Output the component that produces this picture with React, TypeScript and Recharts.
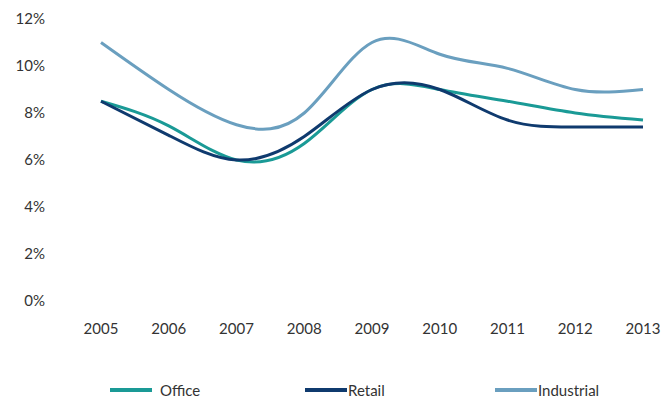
import { LineChart, Line, XAxis, YAxis, Legend } from 'recharts'

const years = ['2005', '2006', '2007', '2008', '2009', '2010', '2011', '2012', '2013']
const office = [8.5, 7.45, 6.0, 6.7, 9.0, 9.0, 8.5, 8.0, 7.7]
const retail = [8.5, 7.05, 6.0, 7.0, 9.0, 9.0, 7.7, 7.4, 7.4]
const industrial = [11.0, 9.0, 7.5, 8.0, 11.0, 10.5, 9.9, 9.0, 9.0]
const yTicks = [0, 2, 4, 6, 8, 10, 12]

const SERIES = [
  { key: 'office', name: 'Office', color: '#1a9a96' },
  { key: 'retail', name: 'Retail', color: '#0f3a6e' },
  { key: 'industrial', name: 'Industrial', color: '#6a9fbf' },
]

const FONT = 'Lato, "Open Sans", sans-serif'

const data = years.map((y, i) => ({
  year: y,
  office: office[i],
  retail: retail[i],
  industrial: industrial[i],
}))

function BottomLegend() {
  // swatch left edge and text left edge
  const slots = [
    { left: 110, text: 160 },
    { left: 305, text: 348 },
    { left: 495, text: 538 },
  ]
  return (
    <div style={{ position: 'relative', height: 20, fontFamily: FONT, fontSize: 15, color: '#333' }}>
      {SERIES.map((s, i) => (
        <div key={s.key} style={{ position: 'absolute', left: slots[i].left, top: 0, height: 20, display: 'flex', alignItems: 'center' }}>
          <span style={{ display: 'inline-block', width: 42, height: 4, background: s.color, marginRight: slots[i].text - slots[i].left - 42 }} />
          <span>{s.name}</span>
        </div>
      ))}
    </div>
  )
}

export default function App() {
  return (
    <div style={{ position: 'absolute', left: 0, top: 0, background: '#fff' }}>
      <LineChart width={670} height={400} data={data} margin={{ top: 19, right: 27, bottom: 0, left: 0 }}>
        <XAxis
          dataKey="year"
          axisLine={false}
          tickLine={false}
          padding={{ left: 40, right: 0 }}
          tick={{ fontFamily: FONT, fontSize: 15, fill: '#333' }}
          tickMargin={16}
          interval={0}
          height={79}
        />
        <YAxis
          domain={[0, 12]}
          ticks={yTicks}
          axisLine={false}
          tickLine={false}
          width={61}
          tickFormatter={(v) => `${v}%`}
          tick={{ fontFamily: FONT, fontSize: 15, fill: '#333' }}
          tickMargin={10}
        />
        {SERIES.map((s) => (
          <Line
            key={s.key}
            type="natural"
            dataKey={s.key}
            name={s.name}
            stroke={s.color}
            strokeWidth={3}
            dot={false}
            activeDot={false}
            isAnimationActive={false}
          />
        ))}
        <Legend verticalAlign="bottom" content={() => <BottomLegend />} wrapperStyle={{ left: 0, bottom: 0, width: 670 }} />
      </LineChart>
    </div>
  )
}
